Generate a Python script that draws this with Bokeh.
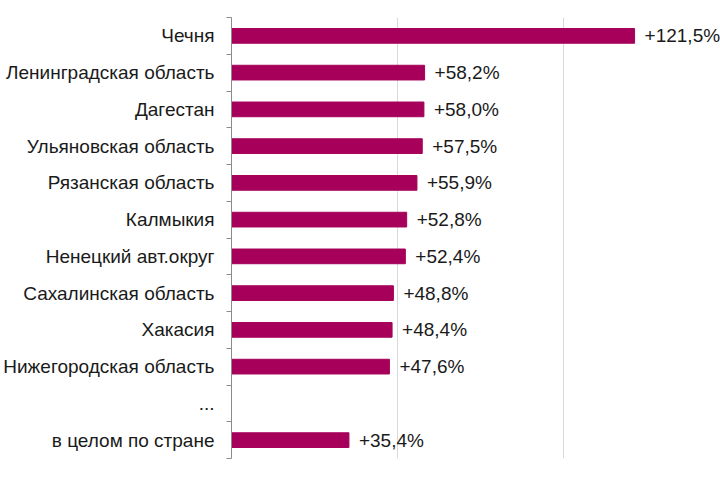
from bokeh.plotting import figure
from bokeh.models import Range1d, FixedTicker, ColumnDataSource
from bokeh.embed import file_html
from bokeh.resources import INLINE
from bokeh.core.properties import value

# data
regions = ["Чечня", "Ленинградская область", "Дагестан", "Ульяновская область",
           "Рязанская область", "Калмыкия", "Ненецкий авт.округ", "Сахалинская область",
           "Хакасия", "Нижегородская область"]
region_values = [121.5, 58.2, 58.0, 57.5, 55.9, 52.8, 52.4, 48.8, 48.4, 47.6]
gap_label = "..."
total_label = "в целом по стране"
total_value = 35.4
grid_ticks = [50, 100, 150]

tick_labels = regions + [gap_label, total_label]
bar_names = regions + [total_label]
bar_values = region_values + [total_value]
bar_pos = [tick_labels.index(n) + 1 for n in bar_names]
bar_text = ["+" + f"{v:.1f}".replace(".", ",") + "%" for v in bar_values]

src = ColumnDataSource(dict(y=bar_pos, v=bar_values, t=bar_text))

n = len(tick_labels)
p = figure(width=720, height=464, output_backend="svg", toolbar_location=None,
           x_range=Range1d(0, 147.4), y_range=Range1d(n + 0.5, 0.5),
           min_border_top=17, min_border_bottom=6, min_border_right=0,
           min_border_left=229)
p.outline_line_color = None
p.background_fill_color = "white"
p.border_fill_color = "white"

p.hbar(y="y", left=0, right="v", height=0.4, source=src,
       fill_color="#A6005B", line_color="#A6005B")
p.text(x="v", y="y", text="t", source=src, x_offset=10,
       text_font=value("Liberation Sans"), text_font_size="19px",
       text_color="#1a1a1a", text_baseline="middle", text_align="left")

p.xaxis.visible = False
p.xgrid.ticker = FixedTicker(ticks=grid_ticks)
p.xgrid.grid_line_color = "#D9D9D9"
p.ygrid.grid_line_color = None

ya = p.yaxis[0]
ya.ticker = FixedTicker(ticks=list(range(1, n + 1)),
                        minor_ticks=[i + 0.5 for i in range(0, n + 1)])
ya.major_label_overrides = {i + 1: lab for i, lab in enumerate(tick_labels)}
ya.major_tick_line_color = None
ya.major_tick_out = 0
ya.major_tick_in = 0
ya.minor_tick_out = 5
ya.minor_tick_in = 0
ya.minor_tick_line_color = "#8C8C8C"
ya.axis_line_color = "#8C8C8C"
ya.major_label_text_font = "Liberation Sans"
ya.major_label_text_font_size = "19px"
ya.major_label_text_color = "#1a1a1a"
ya.major_label_standoff = 12

open("out.html", "w").write(file_html(p, INLINE))
